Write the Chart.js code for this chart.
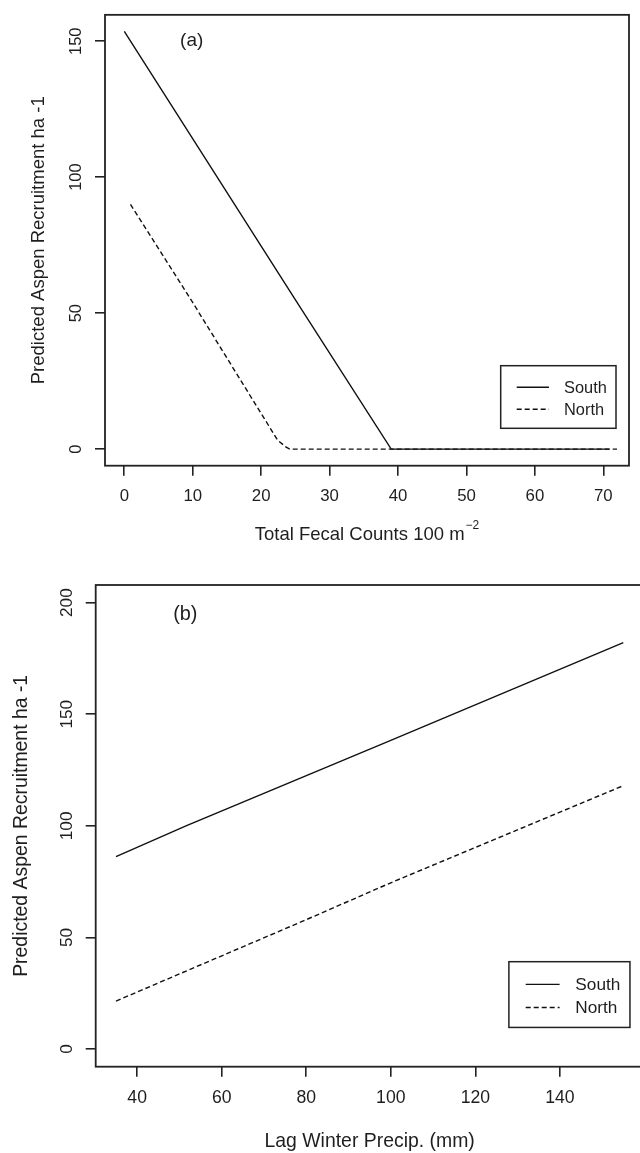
<!DOCTYPE html>
<html><head><meta charset="utf-8">
<script src="https://cdn.jsdelivr.net/npm/chart.js@4/dist/chart.umd.min.js"></script>
<style>
html,body{margin:0;padding:0;background:#fff;overflow:hidden;}
#wrap{position:relative;width:640px;height:1153px;overflow:hidden;background:#fff;}
.pn{position:absolute;left:0;}
</style></head><body>
<div id="wrap">
  <div class="pn" style="top:0;width:640px;height:560px"><canvas id="ca" width="640" height="560"></canvas></div>
  <div class="pn" style="top:560px;width:660px;height:593px"><canvas id="cb" width="660" height="593"></canvas></div>
</div>
<script>
// ---------- Panel (a): Total fecal counts ----------
const seriesNames = ['South', 'North'];
const fecalSouthX = [0, 25.1, 39, 70.9];
const fecalSouthY = [153.6, 54.5, 0, 0];
const fecalNorthX = [0.9, 9.9, 22.4, 23.6, 24.2, 72];
const fecalNorthY = [90, 54.3, 3.3, 0.8, 0, 0];
const fecalXTicks = [0, 10, 20, 30, 40, 50, 60, 70];
const fecalYTicks = [0, 50, 100, 150];

// ---------- Panel (b): Lag winter precipitation ----------
const precipSouthX = [35, 51.7, 100, 155];
const precipSouthY = [86.2, 100.1, 138.3, 182.1];
const precipNorthX = [35, 79.8, 100, 155];
const precipNorthY = [21.5, 57.8, 74.5, 118];
const precipXTicks = [40, 60, 80, 100, 120, 140];
const precipYTicks = [0, 50, 100, 150, 200];

const yTitle = 'Predicted Aspen Recruitment ha -1';
const FONT = '"Liberation Sans", Arial, sans-serif';
const INK = '#1e1e1e';

function pts(xs, ys){ return xs.map((x,i)=>({x:x, y:ys[i]})); }

const rPlot = {
  id: 'rPlot',
  afterDraw(chart, args, o){
    const ctx = chart.ctx;
    const {left, right, top, bottom} = chart.chartArea;
    const xs = chart.scales.x, ys = chart.scales.y;
    const s = o.scale;
    ctx.save();
    // box
    ctx.strokeStyle = '#222'; ctx.lineWidth = 1.8; ctx.setLineDash([]);
    ctx.strokeRect(left, top, right-left, bottom-top);
    // panel label
    ctx.fillStyle = INK; ctx.font = (19*s).toFixed(1)+'px '+FONT;
    ctx.textAlign = 'center'; ctx.textBaseline = 'middle';
    ctx.fillText(o.label, xs.getPixelForValue(o.labelAt[0]), ys.getPixelForValue(o.labelAt[1]));
    // legend
    const w = 115.3*s, h = 62.6*s;
    const lx = right - 13*s - w, ly = bottom - 37.4*s - h;
    ctx.lineWidth = 1.5; ctx.strokeStyle = '#222';
    ctx.strokeRect(lx, ly, w, h);
    chart.data.datasets.forEach((ds, i)=>{
      const yy = ly + (21.6 + 22*i)*s;
      ctx.beginPath(); ctx.setLineDash(ds.borderDash || []);
      ctx.strokeStyle = ds.borderColor; ctx.lineWidth = ds.borderWidth;
      ctx.moveTo(lx + 16*s, yy); ctx.lineTo(lx + 48.3*s, yy); ctx.stroke();
      ctx.setLineDash([]);
      ctx.fillStyle = INK; ctx.font = (16.4*s).toFixed(1)+'px '+FONT;
      ctx.textAlign = 'left'; ctx.textBaseline = 'middle';
      ctx.fillText(ds.label, lx + 63.3*s, yy + 1);
    });
    // x title with superscript
    if (o.xTitle){
      const main = o.xTitle[0], sup = o.xTitle[1];
      ctx.font = '18.5px '+FONT;
      const wm = ctx.measureText(main).width;
      ctx.font = '12px '+FONT;
      const ws = ctx.measureText(sup).width;
      const cx = (left+right)/2, x0 = cx - (wm+ws+1)/2;
      ctx.textAlign = 'left'; ctx.textBaseline = 'middle'; ctx.fillStyle = INK;
      ctx.font = '18.5px '+FONT;
      ctx.fillText(main, x0, o.xTitleY);
      ctx.font = '12px '+FONT;
      ctx.fillText(sup, x0 + wm + 1, o.xTitleY - 9);
    }
    ctx.restore();
  }
};

function makeChart(id, cfg){
  const s = cfg.scale;
  const dsBase = {pointRadius:0, borderWidth:1.4, fill:false, tension:0, borderColor:'#111'};
  return new Chart(document.getElementById(id), {
    type: 'line',
    data: { datasets: [
      Object.assign({}, dsBase, {label: seriesNames[0], data: pts(cfg.sx, cfg.sy)}),
      Object.assign({}, dsBase, {label: seriesNames[1], data: pts(cfg.nx, cfg.ny), borderDash:[5,3]})
    ]},
    options: {
      responsive:false, animation:false, devicePixelRatio:1,
      layout:{padding:{left:0, top:cfg.padTop, right:cfg.padRight, bottom:0}},
      plugins:{legend:{display:false}, tooltip:{enabled:false},
        rPlot:{scale:s, label:cfg.label, labelAt:cfg.labelAt, xTitle:cfg.xTitleSup, xTitleY:cfg.xTitleY}},
      scales:{
        x:{type:'linear', position:'bottom', min:cfg.xmin, max:cfg.xmax,
          afterBuildTicks: sc => { sc.ticks = cfg.xticks.map(v=>({value:v})); },
          afterFit: sc => { sc.height = cfg.xh; },
          grid:{display:true, drawOnChartArea:false, drawTicks:true, tickLength:10, color:'#222', lineWidth:1.6},
          border:{display:false},
          ticks:{font:{family:FONT, size:16.8*s}, color:INK, padding:cfg.xTickPad, maxRotation:0, autoSkip:false},
          title:{display:!!cfg.xTitle, text:cfg.xTitle||'', font:{family:FONT, size:18.5*s}, color:INK, padding:{top:0,bottom:cfg.xTitlePad||0}}
        },
        y:{type:'linear', position:'left', min:cfg.ymin, max:cfg.ymax,
          afterBuildTicks: sc => { sc.ticks = cfg.yticks.map(v=>({value:v})); },
          afterFit: sc => { sc.width = cfg.yw; },
          grid:{display:true, drawOnChartArea:false, drawTicks:true, tickLength:10, color:'#222', lineWidth:1.6},
          border:{display:false},
          ticks:{font:{family:FONT, size:16.4*s}, color:INK, padding:cfg.yTickPad, minRotation:90, maxRotation:90, crossAlign:'center', autoSkip:false},
          title:{display:true, text:yTitle, font:{family:FONT, size:18.5*s}, color:INK, padding:{top:cfg.yTitlePad, bottom:0}}
        }
      }
    },
    plugins:[rPlot]
  });
}

makeChart('ca', {
  scale:1, sx:fecalSouthX, sy:fecalSouthY, nx:fecalNorthX, ny:fecalNorthY,
  xticks:fecalXTicks, yticks:fecalYTicks,
  xmin:-2.82, xmax:73.75, ymin:-6.1, ymax:159.7,
  padTop:11, padRight:11, yw:105, xh:94.3,
  xTickPad:11, yTickPad:5, yTitlePad:28,
  label:'(a)', labelAt:[9.85, 150.1],
  xTitleSup:['Total Fecal Counts 100 m', '\u22122'], xTitleY:535
});

makeChart('cb', {
  scale:1.05, sx:precipSouthX, sy:precipSouthY, nx:precipNorthX, ny:precipNorthY,
  xticks:precipXTicks, yticks:precipYTicks,
  xmin:30.2, xmax:159.8, ymin:-7.9, ymax:207.9,
  padTop:25, padRight:16.4, yw:95.7, xh:86.3,
  xTickPad:11, yTickPad:4, yTitlePad:10,
  label:'(b)', labelAt:[51.4, 194.5],
  xTitle:'Lag Winter Precip. (mm)', xTitlePad:0
});
</script>
</body></html>
